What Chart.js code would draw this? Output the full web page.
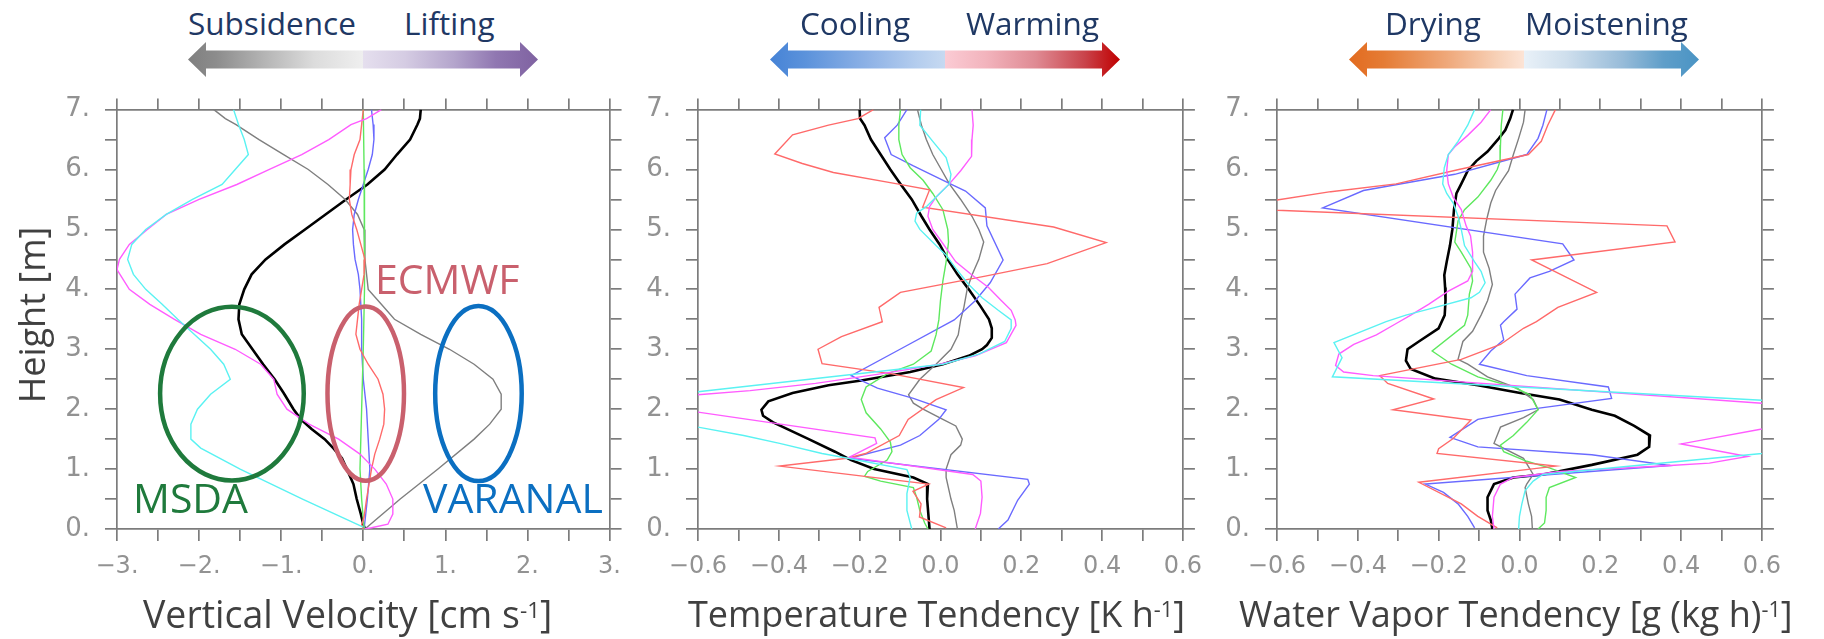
<!DOCTYPE html>
<html>
<head>
<meta charset="utf-8">
<script src="https://cdn.jsdelivr.net/npm/chart.js@4.4.1/dist/chart.umd.min.js"></script>
<style>
  body { margin: 0; background: #fff; width: 1824px; height: 639px; overflow: hidden; position: relative; font-family: 'Open Sans', sans-serif; }
  canvas { position: absolute; }
  .t { position: absolute; white-space: nowrap; line-height: 1; }
  .lab { font-size: 31.5px; color: #1f3864; top: 7px; }
  .ttl { font-size: 36px; color: #404040; top: 596px; }
  .ttl span { font-size: 0.6em; position: relative; top: -10px; }
  .ann { font-size: 41px; }
  .arrow { position: absolute; top: 42px; width: 350px; height: 35px;
    clip-path: polygon(0 17.5px, 18px 0, 18px 8.5px, 332px 8.5px, 332px 0, 350px 17.5px, 332px 35px, 332px 26.5px, 18px 26.5px, 18px 35px); }
</style>
</head>
<body>
<canvas id="c1"></canvas>
<canvas id="c2"></canvas>
<canvas id="c3"></canvas>

<div class="arrow" style="left:188px;background:linear-gradient(to right,#7f7f7f 0%,#8c8c8c 8%,#b5b5b5 22%,#dcdcdc 36%,#efefef 50%,#e5dfee 50%,#d5cce3 62%,#b4a5cc 76%,#9077b1 88%,#7f62a1 100%)"></div>
<div class="arrow" style="left:770px;background:linear-gradient(to right,#4683d6 0%,#5b92db 10%,#8eb2e6 28%,#b4cdee 42%,#c6d9f1 50%,#fbcbd4 50%,#f2b3bc 62%,#df8a93 76%,#c9434a 90%,#c00000 100%)"></div>
<div class="arrow" style="left:1349px;background:linear-gradient(to right,#e26b1f 0%,#e57c35 10%,#efa87a 28%,#f7d0b6 42%,#fce4d6 50%,#e9f1f8 50%,#cfdfed 62%,#98bcd9 78%,#5f9ec9 90%,#4a94c4 100%)"></div>

<div class="t lab" style="left:188px">Subsidence</div>
<div class="t lab" style="left:404px">Lifting</div>
<div class="t lab" style="left:800px">Cooling</div>
<div class="t lab" style="left:966px">Warming</div>
<div class="t lab" style="left:1385px">Drying</div>
<div class="t lab" style="left:1525px">Moistening</div>

<div class="t ann" style="left:375px;top:258px;color:#c9606d">ECMWF</div>
<div class="t ann" style="left:133px;top:477px;color:#1f7a3c">MSDA</div>
<div class="t ann" style="left:423px;top:477px;color:#0b6fc1">VARANAL</div>

<div class="t ttl" style="left:143px;top:595px;font-size:37.5px">Vertical Velocity [cm s<span>-1</span>]</div>
<div class="t ttl" style="left:688px">Temperature Tendency [K h<span>-1</span>]</div>
<div class="t ttl" style="left:1239px">Water Vapor Tendency [g (kg h)<span>-1</span>]</div>
<div class="t" style="left:-118px;top:297px;width:300px;height:36px;line-height:36px;font-size:36px;color:#404040;text-align:center;transform:rotate(-90deg)">Height [m]</div>

<script>
// profiles as [height, value] pairs, top to bottom
// vertical velocity [cm/s]
const wBlack = [[7.0,0.70],[6.85,0.69],[6.75,0.66],[6.5,0.57],[6.25,0.41],[6.0,0.26],[5.75,0.05],[5.5,-0.21],[5.25,-0.46],[5.0,-0.71],[4.75,-0.96],[4.5,-1.19],[4.25,-1.36],[4.0,-1.45],[3.75,-1.51],[3.5,-1.52],[3.25,-1.48],[3.0,-1.35],[2.75,-1.22],[2.5,-1.08],[2.27,-0.97],[2.0,-0.85],[1.83,-0.76],[1.67,-0.63],[1.5,-0.47],[1.34,-0.36],[1.18,-0.26],[1.0,-0.20],[0.75,-0.12],[0.5,-0.08],[0.25,-0.03],[0.08,0.0],[0.0,0.02]];
const wGray = [[7.0,-1.82],[6.85,-1.68],[6.75,-1.55],[6.5,-1.27],[6.25,-0.97],[6.0,-0.67],[5.75,-0.43],[5.5,-0.22],[5.25,-0.07],[5.0,0.01],[4.5,0.02],[4.0,0.06],[3.75,0.22],[3.5,0.38],[3.25,0.70],[3.0,1.05],[2.75,1.35],[2.5,1.58],[2.25,1.68],[2.0,1.68],[1.75,1.54],[1.5,1.35],[1.0,0.91],[0.5,0.45],[0.0,0.02]];
const wRed = [[7.0,0.0],[6.75,-0.02],[6.5,-0.04],[6.25,-0.11],[6.0,-0.15],[5.75,-0.16],[5.5,-0.17],[5.25,-0.14],[5.0,-0.08],[4.75,-0.03],[4.5,0.02],[4.25,0.01],[4.0,-0.02],[3.75,-0.05],[3.5,-0.07],[3.25,-0.09],[3.0,-0.04],[2.75,0.06],[2.5,0.18],[2.25,0.24],[2.0,0.26],[1.75,0.25],[1.5,0.20],[1.25,0.14],[1.0,0.10],[0.75,0.07],[0.5,0.04],[0.2,0.01],[0.07,-0.02],[0.0,0.0]];
const wGreen = [[7.0,0.0],[6.0,0.01],[5.0,0.02],[4.0,0.01],[3.0,0.0],[2.5,-0.01],[2.0,-0.02],[1.5,-0.03],[1.0,-0.04],[0.5,-0.02],[0.0,0.01]];
const wBlue = [[7.0,0.10],[6.75,0.12],[6.5,0.13],[6.25,0.11],[6.0,0.06],[5.75,0.0],[5.5,-0.06],[5.25,-0.11],[5.0,-0.13],[4.75,-0.12],[4.5,-0.10],[4.25,-0.06],[4.0,-0.04],[3.5,-0.02],[3.0,-0.02],[2.5,0.0],[2.0,0.04],[1.5,0.06],[1.0,0.08],[0.5,0.05],[0.0,0.01]];
const wCyan = [[7.0,-1.58],[6.75,-1.52],[6.5,-1.45],[6.25,-1.40],[6.0,-1.56],[5.75,-1.72],[5.5,-2.08],[5.25,-2.40],[5.0,-2.65],[4.75,-2.82],[4.5,-2.87],[4.25,-2.80],[4.0,-2.65],[3.75,-2.45],[3.5,-2.26],[3.25,-2.06],[3.0,-1.86],[2.75,-1.70],[2.5,-1.62],[2.25,-1.86],[2.0,-2.02],[1.75,-2.10],[1.5,-2.10],[1.35,-1.98],[1.0,-1.50],[0.5,-0.74],[0.03,0.0]];
const wMagenta = [[7.0,0.22],[6.85,0.04],[6.75,-0.15],[6.5,-0.42],[6.25,-0.75],[6.0,-1.15],[5.75,-1.54],[5.5,-2.0],[5.25,-2.40],[5.0,-2.63],[4.75,-2.85],[4.5,-2.97],[4.33,-3.0],[4.0,-2.85],[3.75,-2.60],[3.5,-2.30],[3.25,-1.98],[3.0,-1.56],[2.75,-1.25],[2.5,-1.09],[2.25,-1.05],[2.0,-0.93],[1.75,-0.66],[1.5,-0.30],[1.25,-0.04],[1.0,0.14],[0.75,0.28],[0.5,0.36],[0.25,0.36],[0.08,0.30],[0.02,0.10],[0.0,0.02]];

// temperature tendency [K/h]
const tBlack = [[7.0,-0.20],[6.85,-0.199],[6.74,-0.188],[6.5,-0.172],[6.25,-0.148],[6.0,-0.124],[5.76,-0.099],[5.5,-0.071],[5.22,-0.047],[5.0,-0.027],[4.75,-0.002],[4.5,0.018],[4.25,0.042],[4.0,0.070],[3.72,0.099],[3.5,0.120],[3.35,0.127],[3.19,0.127],[3.07,0.115],[3.0,0.103],[2.89,0.070],[2.75,0.006],[2.62,-0.075],[2.48,-0.196],[2.40,-0.277],[2.27,-0.366],[2.13,-0.426],[1.99,-0.443],[1.89,-0.439],[1.78,-0.414],[1.5,-0.326],[1.29,-0.261],[1.15,-0.221],[1.0,-0.164],[0.86,-0.067],[0.75,-0.031],[0.5,-0.033],[0.25,-0.030],[0.0,-0.027]];
const tGray = [[7.0,-0.057],[6.74,-0.047],[6.5,-0.035],[6.25,-0.019],[6.0,0.002],[5.76,0.022],[5.5,0.050],[5.22,0.078],[5.0,0.095],[4.79,0.107],[4.5,0.095],[4.24,0.078],[4.0,0.066],[3.70,0.058],[3.49,0.050],[3.24,0.044],[3.0,0.026],[2.75,-0.011],[2.5,-0.051],[2.24,-0.079],[2.10,-0.067],[2.0,-0.043],[1.83,0.006],[1.72,0.038],[1.5,0.054],[1.40,0.050],[1.24,0.026],[1.0,0.014],[0.86,0.014],[0.5,0.026],[0.31,0.034],[0.0,0.042]];
const tRed = [[7.0,-0.166],[6.85,-0.204],[6.74,-0.277],[6.58,-0.366],[6.26,-0.410],[6.10,-0.342],[5.95,-0.265],[5.76,-0.107],[5.66,-0.027],[5.37,-0.044],[5.04,0.280],[4.78,0.410],[4.43,0.264],[4.22,0.111],[3.95,-0.099],[3.70,-0.152],[3.46,-0.144],[3.21,-0.245],[3.0,-0.303],[2.76,-0.293],[2.59,-0.12],[2.36,0.057],[2.16,-0.011],[1.83,-0.08],[1.56,-0.102],[1.26,-0.185],[1.18,-0.231],[1.05,-0.398],[0.75,-0.029],[0.63,-0.068],[0.42,-0.048],[0.2,-0.052],[0.02,0.014]];
const tGreen = [[7.0,-0.099],[6.74,-0.103],[6.5,-0.103],[6.25,-0.095],[6.03,-0.075],[5.82,-0.043],[5.60,-0.019],[5.33,0.006],[5.0,0.018],[4.79,0.020],[4.46,0.014],[4.14,0.006],[3.81,0.0],[3.49,-0.004],[3.24,-0.011],[2.97,-0.023],[2.75,-0.067],[2.59,-0.132],[2.37,-0.184],[2.16,-0.196],[1.94,-0.184],[1.67,-0.148],[1.45,-0.124],[1.29,-0.120],[1.15,-0.132],[0.96,-0.180],[0.88,-0.188],[0.80,-0.148],[0.69,-0.067],[0.53,-0.059],[0.31,-0.051],[0.10,-0.039],[0.0,-0.031]];
const tBlue = [[7.0,-0.083],[6.74,-0.107],[6.53,-0.138],[6.25,-0.122],[6.06,-0.067],[5.77,0.022],[5.64,0.062],[5.36,0.111],[5.06,0.115],[4.49,0.155],[4.11,0.123],[3.81,0.086],[3.49,0.034],[3.0,-0.10],[2.56,-0.221],[2.46,-0.19],[2.35,-0.156],[2.18,-0.067],[1.99,0.014],[1.83,-0.004],[1.56,-0.051],[1.40,-0.099],[1.18,-0.225],[0.83,0.216],[0.75,0.220],[0.48,0.191],[0.15,0.167],[0.0,0.143]];
const tCyan = [[7.0,-0.049],[6.74,-0.051],[6.47,-0.019],[6.20,0.014],[5.92,0.026],[5.76,0.022],[5.60,-0.002],[5.38,-0.035],[5.27,-0.059],[5.14,-0.063],[5.0,-0.051],[4.73,-0.011],[4.57,0.014],[4.35,0.038],[4.08,0.070],[3.86,0.103],[3.65,0.143],[3.49,0.175],[3.35,0.175],[3.13,0.159],[2.92,0.095],[2.75,0.006],[2.29,-0.6],[2.0,-0.75],[1.70,-0.6],[1.56,-0.487],[1.43,-0.398],[1.26,-0.293],[1.18,-0.229],[0.99,-0.083],[0.86,-0.075],[0.59,-0.083],[0.31,-0.083],[0.0,-0.071]];
const tMagenta = [[7.0,0.078],[6.74,0.081],[6.5,0.078],[6.22,0.077],[5.98,0.050],[5.76,0.022],[5.54,-0.011],[5.38,-0.027],[5.22,-0.031],[5.0,-0.019],[4.84,-0.002],[4.46,0.038],[4.24,0.078],[4.03,0.119],[3.81,0.151],[3.65,0.175],[3.49,0.185],[3.40,0.187],[3.11,0.163],[2.89,0.086],[2.75,-0.002],[2.59,-0.148],[2.43,-0.309],[2.31,-0.471],[2.24,-0.6],[2.1,-0.75],[1.95,-0.6],[1.52,-0.162],[1.43,-0.158],[1.20,-0.225],[0.91,0.080],[0.80,0.100],[0.53,0.103],[0.26,0.099],[0.0,0.086]];

// water vapor tendency [g/(kg h)]
const qBlack = [[7.0,-0.016],[6.85,-0.023],[6.66,-0.035],[6.52,-0.051],[6.30,-0.079],[6.14,-0.107],[5.98,-0.128],[5.76,-0.144],[5.60,-0.156],[5.33,-0.162],[5.0,-0.166],[4.73,-0.172],[4.46,-0.180],[4.24,-0.186],[4.03,-0.184],[3.81,-0.183],[3.57,-0.185],[3.35,-0.200],[3.13,-0.249],[3.0,-0.277],[2.81,-0.281],[2.67,-0.269],[2.51,-0.208],[2.40,-0.103],[2.27,0.002],[2.16,0.099],[1.99,0.179],[1.89,0.236],[1.72,0.284],[1.56,0.323],[1.37,0.321],[1.24,0.292],[1.07,0.179],[0.91,0.058],[0.86,-0.015],[0.75,-0.063],[0.53,-0.079],[0.31,-0.079],[0.15,-0.071],[0.0,-0.067]];
const qGray = [[7.0,0.014],[6.79,0.010],[6.52,-0.002],[6.25,-0.015],[5.98,-0.027],[5.82,-0.043],[5.65,-0.059],[5.44,-0.071],[5.17,-0.081],[4.89,-0.089],[4.62,-0.089],[4.35,-0.075],[4.08,-0.067],[3.81,-0.079],[3.57,-0.095],[3.30,-0.116],[3.13,-0.140],[2.83,-0.152],[2.75,-0.128],[2.54,-0.079],[2.35,-0.006],[2.16,0.034],[1.99,0.046],[1.86,0.010],[1.70,-0.047],[1.43,-0.063],[1.18,0.010],[0.91,0.034],[0.75,0.018],[0.69,0.014],[0.42,0.022],[0.21,0.030],[0.0,0.032]];
const qRed = [[7.0,0.089],[6.74,0.070],[6.47,0.054],[6.25,0.022],[6.0,-0.15],[5.76,-0.305],[5.63,-0.467],[5.49,-0.6],[5.40,-0.75],[5.32,-0.6],[5.06,0.365],[4.79,0.385],[4.49,0.030],[3.95,0.191],[3.70,0.095],[3.46,0.042],[3.35,0.010],[3.08,-0.047],[2.83,-0.144],[2.56,-0.346],[2.43,-0.326],[2.17,-0.212],[1.99,-0.313],[1.82,-0.120],[1.51,-0.164],[1.34,-0.200],[1.26,-0.204],[1.05,0.090],[0.78,-0.249],[0.42,-0.144],[0.21,-0.103],[0.02,-0.055]];
const qGreen = [[7.0,-0.041],[6.74,-0.045],[6.41,-0.047],[6.14,-0.048],[6.0,-0.055],[5.82,-0.071],[5.54,-0.103],[5.33,-0.136],[5.14,-0.152],[4.79,-0.160],[4.62,-0.144],[4.35,-0.120],[4.14,-0.116],[3.92,-0.124],[3.57,-0.128],[3.40,-0.136],[2.97,-0.216],[2.75,-0.168],[2.54,-0.103],[2.37,-0.015],[2.24,0.026],[1.99,0.046],[1.78,0.018],[1.56,-0.015],[1.40,-0.047],[1.29,-0.039],[1.13,0.018],[1.02,0.074],[0.86,0.139],[0.69,0.074],[0.53,0.066],[0.31,0.066],[0.10,0.062],[0.0,0.046]];
const qBlue = [[7.0,0.068],[6.74,0.058],[6.52,0.046],[6.25,0.018],[5.92,-0.16],[5.65,-0.386],[5.36,-0.487],[4.76,0.107],[4.49,0.135],[4.30,0.074],[4.19,0.026],[3.92,-0.011],[3.67,-0.006],[3.46,-0.039],[3.40,-0.047],[3.16,-0.039],[2.97,-0.071],[2.75,-0.099],[2.56,0.018],[2.37,0.220],[2.18,0.228],[2.0,0.03],[1.83,-0.103],[1.53,-0.172],[1.37,-0.103],[1.24,0.179],[1.06,0.373],[0.75,-0.233],[0.61,-0.188],[0.42,-0.152],[0.21,-0.128],[0.02,-0.111]];
const qCyan = [[7.0,-0.111],[6.74,-0.128],[6.47,-0.152],[6.25,-0.176],[6.03,-0.186],[5.76,-0.190],[5.60,-0.180],[5.44,-0.164],[5.22,-0.152],[5.0,-0.144],[4.73,-0.136],[4.46,-0.111],[4.30,-0.095],[4.11,-0.085],[3.95,-0.099],[3.86,-0.120],[3.70,-0.208],[3.57,-0.281],[3.46,-0.330],[3.11,-0.459],[2.86,-0.439],[2.54,-0.463],[2.15,0.6],[1.7,0.75],[1.26,0.6],[0.91,0.058],[0.80,0.034],[0.64,0.014],[0.42,0.006],[0.21,0.0],[0.0,-0.002]];
const qMagenta = [[7.0,-0.071],[6.79,-0.095],[6.57,-0.128],[6.38,-0.160],[6.25,-0.176],[5.98,-0.180],[5.76,-0.176],[5.54,-0.164],[5.33,-0.144],[5.06,-0.132],[4.89,-0.121],[4.62,-0.116],[4.30,-0.116],[4.14,-0.128],[3.97,-0.176],[3.75,-0.225],[3.57,-0.269],[3.43,-0.305],[3.24,-0.354],[3.08,-0.410],[2.92,-0.447],[2.73,-0.455],[2.62,-0.435],[2.56,-0.362],[2.10,0.6],[1.9,0.75],[1.67,0.6],[1.42,0.40],[1.21,0.565],[1.10,0.47],[1.06,0.373],[0.96,0.099],[0.86,-0.015],[0.75,-0.047],[0.53,-0.063],[0.21,-0.067],[0.0,-0.063]];

// annotation rings in panel 1 (data units)
const rings = [
  {x: -1.6, y: 2.26, rx: 0.875, ry: 1.45, color: '#1f7a3c'},
  {x: 0.03, y: 2.26, rx: 0.466, ry: 1.455, color: '#c9606d'},
  {x: 1.403, y: 2.26, rx: 0.527, ry: 1.46, color: '#0b6fc1'}
];

const AXIS_GRAY = '#7c7c7c';
const LABEL_GRAY = '#929292';
const W_LEFT = 80, W_RIGHT = 20, H_TOP = 20, H_BOTTOM = 60;
const PLOT_W = 495, PLOT_H = 430, PLOT_TOP = 99;

function near(v, k) { return Math.abs(v - Math.round(v / k) * k) < 1e-6; }
function fmtInt(v) {
  if (!near(v, 1)) return '';
  const r = Math.round(v);
  return (r < 0 ? '\u2212' : '') + Math.abs(r) + '.';
}
function fmtTenth(v) {
  const k = Math.round(v * 10);
  if (k % 2) return '';
  return (k < 0 ? '\u2212' : '') + (Math.abs(k) / 10).toFixed(1);
}

function frameScale(axis, position, min, max, step, fmt, size, tickLen, pad, fit) {
  return {
    type: 'linear', axis: axis, position: position, min: min, max: max,
    border: {display: true, color: AXIS_GRAY, width: 1.7},
    grid: {drawOnChartArea: false, drawTicks: true, tickLength: tickLen, color: AXIS_GRAY, lineWidth: 1.7},
    ticks: {
      display: !!fmt, stepSize: step, autoSkip: false, maxRotation: 0, minRotation: 0,
      padding: pad, color: LABEL_GRAY, font: {family: 'DejaVu Sans', size: size},
      callback: fmt || function () { return ''; }
    },
    afterFit: function (s) { if (axis === 'x') s.height = fit; else s.width = fit; }
  };
}

function profile(points, color, width) {
  return {
    data: points.map(p => ({x: p[1], y: p[0]})),
    borderColor: color, borderWidth: width, pointRadius: 0,
    showLine: true, tension: 0, fill: false
  };
}

function series(cyan, magenta, red, green, blue, gray, black) {
  return [
    profile(cyan, '#5af2f2', 1.4),
    profile(magenta, '#ff5cff', 1.4),
    profile(red, '#ff6a6a', 1.4),
    profile(green, '#5ee85e', 1.4),
    profile(blue, '#6a6aff', 1.4),
    profile(gray, '#7f7f7f', 1.4),
    profile(black, '#000000', 2.6)
  ];
}

const ringPlugin = {
  id: 'rings',
  afterDatasetsDraw(chart) {
    const {ctx, scales: {x, y}} = chart;
    ctx.save();
    rings.forEach(r => {
      const cx = x.getPixelForValue(r.x), cy = y.getPixelForValue(r.y);
      const rx = x.getPixelForValue(r.x + r.rx) - cx;
      const ry = cy - y.getPixelForValue(r.y + r.ry);
      ctx.beginPath();
      ctx.ellipse(cx, cy, rx, ry, 0, 0, 2 * Math.PI);
      ctx.lineWidth = 4.5;
      ctx.strokeStyle = r.color;
      ctx.stroke();
    });
    ctx.restore();
  }
};

function makeChart(id, plotLeft, xMin, xMax, xStep, xFmt, datasets, plugins) {
  const cv = document.getElementById(id);
  cv.width = PLOT_W + W_LEFT + W_RIGHT;
  cv.height = PLOT_H + H_TOP + H_BOTTOM;
  cv.style.left = (plotLeft - W_LEFT) + 'px';
  cv.style.top = (PLOT_TOP - H_TOP) + 'px';
  return new Chart(cv.getContext('2d'), {
    type: 'scatter',
    data: {datasets: datasets},
    plugins: plugins || [],
    options: {
      responsive: false, animation: false, devicePixelRatio: 1, events: [],
      layout: {padding: 0},
      plugins: {legend: {display: false}, tooltip: {enabled: false}},
      scales: {
        x: frameScale('x', 'bottom', xMin, xMax, xStep, xFmt, 24, 12, 11, H_BOTTOM),
        x2: frameScale('x', 'top', xMin, xMax, xStep, null, 24, 11, 0, H_TOP),
        y: frameScale('y', 'left', 0, 7, 0.5, fmtInt, 26, 12, 15, W_LEFT),
        y2: frameScale('y', 'right', 0, 7, 0.5, null, 26, 12, 0, W_RIGHT)
      }
    }
  });
}

makeChart('c1', 117, -3, 3, 0.5, fmtInt, series(wCyan, wMagenta, wRed, wGreen, wBlue, wGray, wBlack), [ringPlugin]);
makeChart('c2', 698, -0.6, 0.6, 0.1, fmtTenth, series(tCyan, tMagenta, tRed, tGreen, tBlue, tGray, tBlack));
makeChart('c3', 1277, -0.6, 0.6, 0.1, fmtTenth, series(qCyan, qMagenta, qRed, qGreen, qBlue, qGray, qBlack));
</script>
</body>
</html>
